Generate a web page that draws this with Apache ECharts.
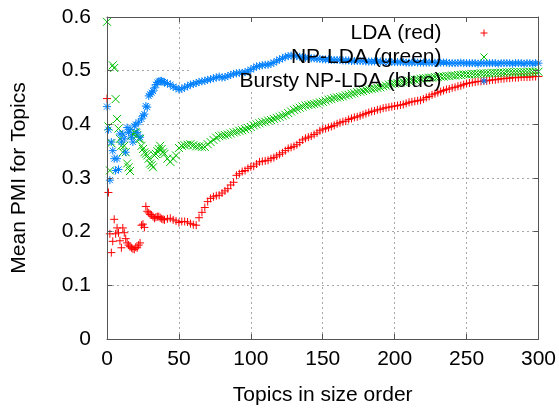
<!DOCTYPE html>
<html>
<head>
<meta charset="utf-8">
<script src="https://cdn.jsdelivr.net/npm/echarts@6/dist/echarts.min.js"></script>
<style>
  html, body { margin: 0; padding: 0; background: #fff; }
  #chart { width: 559px; height: 411px; }
</style>
</head>
<body>
<div id="chart"></div>
<script>
// topic rank (x); every topic for the noisy start, then every second topic
const topicIdx = [
  0, 1, 2, 3, 4, 5, 6, 7, 8, 9, 10, 11, 12, 13, 14, 15, 16, 17, 18, 19, 20,
  21, 22, 23, 24, 25, 26, 27, 28, 29, 30, 31, 32, 33, 34, 35, 36, 37, 38, 39, 40,
  42, 44, 46, 48, 50, 52, 54, 56, 58, 60, 62, 64, 66, 68, 70, 72, 74, 76, 78, 80,
  82, 84, 86, 88, 90, 92, 94, 96, 98, 100, 102, 104, 106, 108, 110, 112, 114, 116, 118, 120,
  122, 124, 126, 128, 130, 132, 134, 136, 138, 140, 142, 144, 146, 148, 150, 152, 154, 156, 158, 160,
  162, 164, 166, 168, 170, 172, 174, 176, 178, 180, 182, 184, 186, 188, 190, 192, 194, 196, 198, 200,
  202, 204, 206, 208, 210, 212, 214, 216, 218, 220, 222, 224, 226, 228, 230, 232, 234, 236, 238, 240,
  242, 244, 246, 248, 250, 252, 254, 256, 258, 260, 262, 264, 266, 268, 270, 272, 274, 276, 278, 280,
  282, 284, 286, 288, 290, 292, 294, 296, 298, 300
];

// LDA (red)
const ldaRed = [
  0.448, 0.273, 0.196, 0.161, 0.182, 0.223, 0.196, 0.207, 0.198, 0.183,
  0.170, 0.207, 0.198, 0.187, 0.179, 0.175, 0.172, 0.170, 0.168, 0.167,
  0.171, 0.170, 0.175, 0.179, 0.212, 0.214, 0.208, 0.247, 0.238, 0.235,
  0.232, 0.231, 0.228, 0.225, 0.227, 0.228, 0.228, 0.226, 0.224, 0.223,
  0.222,
  0.224, 0.225, 0.222, 0.220, 0.217, 0.219, 0.219, 0.218, 0.215, 0.213,
  0.212, 0.226, 0.236, 0.245, 0.256, 0.262, 0.265, 0.267, 0.268, 0.272,
  0.276, 0.280, 0.287, 0.292, 0.305, 0.308, 0.312, 0.314, 0.318, 0.321,
  0.322, 0.326, 0.330, 0.331, 0.332, 0.333, 0.336, 0.338, 0.341, 0.344,
  0.347, 0.351, 0.355, 0.357, 0.359, 0.362, 0.366, 0.371, 0.374, 0.376,
  0.378, 0.381, 0.384, 0.388, 0.391, 0.392, 0.394, 0.396, 0.398, 0.401,
  0.403, 0.405, 0.406, 0.409, 0.411, 0.413, 0.414, 0.416, 0.418, 0.420,
  0.422, 0.424, 0.425, 0.427, 0.428, 0.430, 0.431, 0.432, 0.433, 0.434,
  0.435, 0.436, 0.437, 0.439, 0.441, 0.442, 0.443, 0.444, 0.445, 0.447,
  0.450, 0.452, 0.455, 0.457, 0.459, 0.461, 0.463, 0.465, 0.466, 0.468,
  0.469, 0.471, 0.472, 0.474, 0.476, 0.477, 0.478, 0.479, 0.480, 0.480,
  0.481, 0.481, 0.482, 0.483, 0.483, 0.484, 0.485, 0.485, 0.486, 0.486,
  0.487, 0.487, 0.487, 0.488, 0.488, 0.488, 0.488, 0.489, 0.489, 0.489
];

// NP-LDA (green)
const npLdaGreen = [
  0.591, 0.396, 0.314, 0.365, 0.510, 0.505, 0.447, 0.410, 0.392, 0.373,
  0.360, 0.348, 0.360, 0.348, 0.327, 0.320, 0.313, 0.379, 0.382, 0.385,
  0.385, 0.380, 0.373, 0.373, 0.360, 0.354, 0.348, 0.345, 0.342, 0.336,
  0.327, 0.324, 0.320, 0.342, 0.345, 0.350, 0.354, 0.360, 0.354, 0.348,
  0.345,
  0.336, 0.330, 0.336, 0.342, 0.356, 0.360, 0.361, 0.362, 0.363, 0.361,
  0.359, 0.359, 0.358, 0.358, 0.363, 0.367, 0.371, 0.375, 0.378, 0.379,
  0.380, 0.381, 0.383, 0.385, 0.386, 0.388, 0.389, 0.391, 0.393, 0.395,
  0.398, 0.400, 0.402, 0.404, 0.405, 0.407, 0.408, 0.410, 0.412, 0.414,
  0.416, 0.418, 0.421, 0.424, 0.427, 0.429, 0.431, 0.433, 0.435, 0.436,
  0.437, 0.438, 0.439, 0.441, 0.442, 0.444, 0.446, 0.447, 0.449, 0.450,
  0.451, 0.452, 0.454, 0.455, 0.457, 0.458, 0.460, 0.461, 0.462, 0.464,
  0.465, 0.466, 0.467, 0.468, 0.469, 0.471, 0.472, 0.474, 0.475, 0.476,
  0.477, 0.478, 0.479, 0.480, 0.481, 0.482, 0.483, 0.484, 0.485, 0.486,
  0.486, 0.487, 0.487, 0.488, 0.488, 0.489, 0.489, 0.490, 0.490, 0.491,
  0.491, 0.492, 0.492, 0.493, 0.493, 0.493, 0.494, 0.494, 0.494, 0.495,
  0.495, 0.495, 0.495, 0.496, 0.496, 0.496, 0.496, 0.496, 0.497, 0.497,
  0.497, 0.497, 0.497, 0.497, 0.497, 0.497, 0.498, 0.498, 0.498, 0.498
];

// Bursty NP-LDA (blue)
const burstyBlue = [
  0.433, 0.390, 0.296, 0.367, 0.351, 0.336, 0.314, 0.336, 0.316, 0.382,
  0.367, 0.382, 0.373, 0.348, 0.394, 0.385, 0.390, 0.376, 0.367, 0.397,
  0.400, 0.385, 0.404, 0.376, 0.410, 0.416, 0.419, 0.434, 0.432, 0.453,
  0.456, 0.459, 0.462, 0.468, 0.474, 0.478, 0.480, 0.481, 0.481, 0.479,
  0.478,
  0.476, 0.474, 0.470, 0.468, 0.465, 0.466, 0.469, 0.471, 0.474, 0.475,
  0.477, 0.479, 0.480, 0.481, 0.483, 0.484, 0.486, 0.487, 0.489, 0.487,
  0.488, 0.490, 0.492, 0.494, 0.495, 0.496, 0.496, 0.497, 0.499, 0.502,
  0.505, 0.508, 0.509, 0.510, 0.511, 0.511, 0.513, 0.515, 0.518, 0.521,
  0.523, 0.526, 0.527, 0.528, 0.528, 0.527, 0.526, 0.525, 0.524, 0.524,
  0.523, 0.523, 0.522, 0.522, 0.521, 0.521, 0.521, 0.520, 0.520, 0.520,
  0.520, 0.519, 0.519, 0.519, 0.518, 0.518, 0.518, 0.518, 0.518, 0.517,
  0.517, 0.517, 0.517, 0.517, 0.517, 0.516, 0.516, 0.516, 0.516, 0.516,
  0.516, 0.516, 0.516, 0.515, 0.515, 0.515, 0.516, 0.515, 0.515, 0.515,
  0.515, 0.515, 0.515, 0.515, 0.514, 0.515, 0.515, 0.515, 0.514, 0.514,
  0.514, 0.514, 0.515, 0.514, 0.514, 0.514, 0.514, 0.514, 0.513, 0.514,
  0.514, 0.514, 0.514, 0.514, 0.514, 0.513, 0.514, 0.514, 0.514, 0.514,
  0.513, 0.514, 0.514, 0.514, 0.513, 0.514, 0.514, 0.513, 0.514, 0.514
];

const seriesNames = ['LDA (red)', 'NP-LDA (green)', 'Bursty NP-LDA (blue)'];
const seriesColors = ['#ff0000', '#00c000', '#0080ff'];
// gnuplot point types: plus, cross, star
const markers = [
  'path://M0,4L8,4M4,0L4,8',
  'path://M0,0L8,8M0,8L8,0',
  'path://M0,4L8,4M4,0L4,8M1,1L7,7M1,7L7,1'
];

const FONT = 'Liberation Sans, Arial, sans-serif';
const FRAME = '#555555';

function pairs(ys) {
  return ys.map((y, i) => [topicIdx[i], y]);
}

const frameAxis = (pos, isX) => ({
  type: 'value',
  position: pos,
  min: 0,
  max: isX ? 300 : 0.6,
  interval: isX ? 50 : 0.1,
  z: 5,
  axisLine: { show: true, onZero: false, lineStyle: { color: FRAME, width: 1 } },
  axisTick: { show: true, inside: true, length: 5, lineStyle: { color: FRAME } },
  axisLabel: { show: false },
  splitLine: { show: false }
});

const gridAxis = (pos, isX) => ({
  type: 'value',
  position: pos,
  min: 0,
  max: isX ? 300 : 0.6,
  interval: isX ? 50 : 0.1,
  z: 0,
  axisLine: { show: false },
  axisTick: { show: false },
  axisLabel: { show: false },
  splitLine: { show: true, lineStyle: { color: '#a8a8a8', width: 1, type: [2, 3] } }
});

const xMain = frameAxis('bottom', true);
xMain.axisLabel = { show: true, margin: 10, color: '#000', fontFamily: FONT, fontSize: 21 };
xMain.name = 'Topics in size order';
xMain.nameLocation = 'middle';
xMain.nameGap = 46;
xMain.nameTextStyle = { color: '#000', fontFamily: FONT, fontSize: 21 };

const yMain = frameAxis('left', false);
yMain.axisLabel = { show: true, margin: 16, color: '#000', fontFamily: FONT, fontSize: 21 };
yMain.name = 'Mean PMI for Topics';
yMain.nameLocation = 'middle';
yMain.nameGap = 77;
yMain.nameRotate = 90;
yMain.nameTextStyle = { color: '#000', fontFamily: FONT, fontSize: 21 };

const option = {
  animation: false,
  backgroundColor: '#fff',
  grid: { left: 107, right: 20, top: 17, bottom: 69 },
  xAxis: [xMain, frameAxis('top', true), gridAxis('bottom', true)],
  yAxis: [yMain, frameAxis('right', false), gridAxis('left', false)],
  legend: {
    orient: 'vertical',
    right: 69,
    top: 21,
    padding: 0,
    itemGap: 0,
    align: 'right',
    itemWidth: 7,
    itemHeight: 7,
    selectedMode: false,
    textStyle: { color: '#000', fontFamily: FONT, fontSize: 21, lineHeight: 24, padding: [0, 34, 0, 0] },
    data: seriesNames.map((n, i) => ({
      name: n,
      icon: markers[i],
      itemStyle: { color: 'none', borderColor: seriesColors[i], borderWidth: 1 }
    }))
  },
  // key area: grid lines do not show behind the key
  graphic: [{
    type: 'rect',
    z: 1,
    silent: true,
    shape: { x: 190, y: 22, width: 348, height: 70 },
    style: { fill: '#fff' }
  }],
  series: [ldaRed, npLdaGreen, burstyBlue].map((ys, i) => ({
    name: seriesNames[i],
    type: 'scatter',
    xAxisIndex: 0,
    yAxisIndex: 0,
    z: 2,
    silent: true,
    symbol: markers[i],
    symbolSize: 8,
    itemStyle: { color: 'none', borderColor: seriesColors[i], borderWidth: 1, opacity: 1 },
    data: pairs(ys)
  }))
};

const chart = echarts.init(document.getElementById('chart'));
chart.setOption(option);
</script>
</body>
</html>
